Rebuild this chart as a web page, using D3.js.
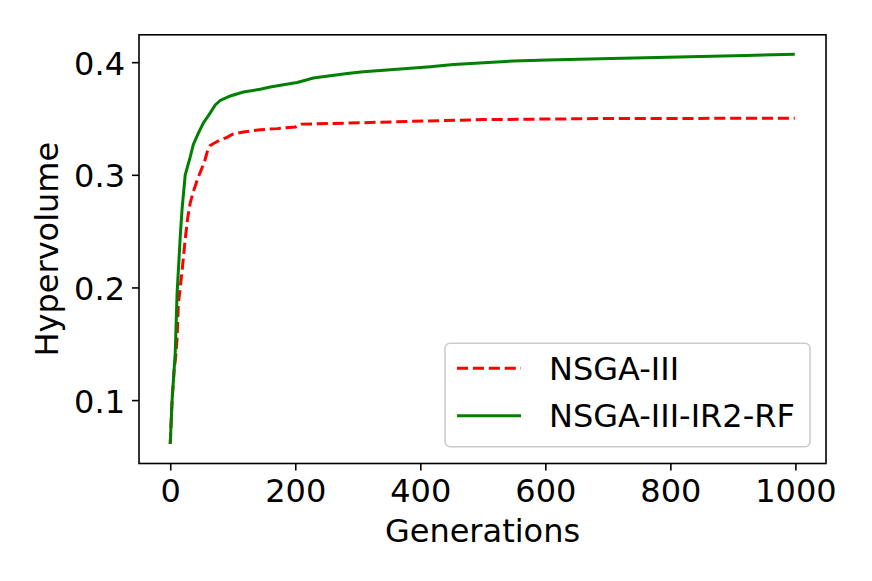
<!DOCTYPE html>
<html><head><meta charset="utf-8">
<script src="https://cdn.jsdelivr.net/npm/d3@7/dist/d3.min.js"></script>
<style>body{margin:0;background:#fff}svg{display:block}</style>
</head><body><svg id="c" width="872" height="581"></svg>
<script>
const seriesNames = ["NSGA-III", "NSGA-III-IR2-RF"];
const genA = [0,3,6,9,11,13,16,19,24,28,32,37,43,50,55,60,64,70,80,90,100,117,144,171,200,210,256,336,411,500,600,709,800,900,999];
const hvA  = [0.061,0.100,0.125,0.140,0.155,0.185,0.200,0.215,0.243,0.262,0.275,0.285,0.295,0.305,0.312,0.322,0.326,0.328,0.331,0.333,0.336,0.338,0.340,0.341,0.3425,0.345,0.3455,0.3467,0.3478,0.349,0.3495,0.350,0.350,0.3502,0.3503];
const genB = [0,3,8,11,16,19,24,32,37,45,53,64,72,80,96,117,144,160,181,203,229,256,283,309,347,416,453,549,603,688,760,848,920,999];
const hvB  = [0.061,0.100,0.142,0.195,0.245,0.270,0.300,0.316,0.327,0.337,0.346,0.355,0.362,0.366,0.370,0.3735,0.376,0.378,0.380,0.382,0.386,0.388,0.390,0.3915,0.393,0.396,0.398,0.401,0.402,0.403,0.404,0.405,0.406,0.407];
const xTicks = [0,200,400,600,800,1000];
const yTicks = [0.1,0.2,0.3,0.4];
const colors = ["#ff0000","#008000"];

const svg = d3.select("#c");
const L=139, R=826, T=34.8, B=463.5;
const FONT = "'DejaVu Sans', sans-serif";
const FS = 32;

const xMin = d3.min(genA.concat(genB)), xMax = d3.max(genA.concat(genB));
const xPad = (xMax - xMin) * 0.05;
const allY = hvA.concat(hvB);
const yMin = d3.min(allY), yMax = d3.max(allY), yPad = (yMax - yMin) * 0.05;
const x = d3.scaleLinear().domain([xMin - xPad, xMax + xPad]).range([L, R]);
const y = d3.scaleLinear().domain([yMin - yPad, yMax + yPad]).range([B, T]);

const line = d3.line().x(d => x(d[0])).y(d => y(d[1]));
const dataA = genA.map((g,i)=>[g,hvA[i]]);
const dataB = genB.map((g,i)=>[g,hvB[i]]);

const plot = svg.append("g");
plot.append("path").datum(dataA).attr("d", line).attr("fill","none")
  .attr("stroke", colors[0]).attr("stroke-width",3).attr("stroke-dasharray","11.1,4.8");
plot.append("path").datum(dataB).attr("d", line).attr("fill","none")
  .attr("stroke", colors[1]).attr("stroke-width",3);

svg.append("rect").attr("x",L).attr("y",T).attr("width",R-L).attr("height",B-T)
  .attr("fill","none").attr("stroke","#000").attr("stroke-width",1.6);

const xa = svg.append("g").attr("transform",`translate(0,${B})`)
  .call(d3.axisBottom(x).tickValues(xTicks).tickSize(7).tickPadding(7).tickFormat(d3.format("d")));
xa.select(".domain").remove();
xa.selectAll("line").attr("stroke","#000").attr("stroke-width",1.6);
xa.selectAll("text").attr("font-family",FONT).attr("font-size",FS).attr("fill","#000")
  .attr("dy",null).attr("y",38);

const ya = svg.append("g").attr("transform",`translate(${L},0)`)
  .call(d3.axisLeft(y).tickValues(yTicks).tickSize(7).tickPadding(7).tickFormat(d3.format(".1f")));
ya.select(".domain").remove();
ya.selectAll("line").attr("stroke","#000").attr("stroke-width",1.6);
ya.selectAll("text").attr("font-family",FONT).attr("font-size",FS).attr("fill","#000")
  .attr("dy",null).attr("y",12);

svg.append("text").attr("x",(L+R)/2).attr("y",542).attr("text-anchor","middle")
  .attr("font-family",FONT).attr("font-size",FS).text("Generations");
svg.append("text").attr("transform",`translate(58,${(T+B)/2}) rotate(-90)`).attr("text-anchor","middle")
  .attr("font-family",FONT).attr("font-size",FS).text("Hypervolume");

const lg = svg.append("g");
lg.append("rect").attr("x",445).attr("y",343.3).attr("width",365).attr("height",103.4)
  .attr("rx",5).attr("fill","#fff").attr("fill-opacity",0.8).attr("stroke","#cccccc").attr("stroke-width",1.6);
const ly = [368.3, 415.7];
seriesNames.forEach((n,i)=>{
  lg.append("line").attr("x1",457).attr("x2",521).attr("y1",ly[i]).attr("y2",ly[i])
    .attr("stroke",colors[i]).attr("stroke-width",3)
    .attr("stroke-dasharray", i===0 ? "11.1,4.8" : null);
  lg.append("text").attr("x",549).attr("y",ly[i]+11.5).attr("font-family",FONT).attr("font-size",FS).text(n);
});
</script></body></html>
